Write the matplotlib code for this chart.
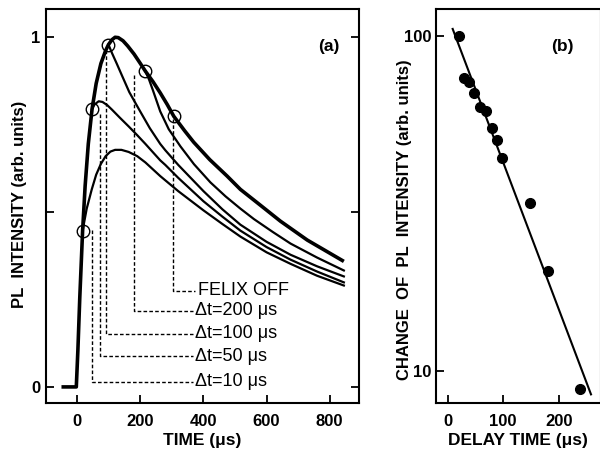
import matplotlib.pyplot as plt

# -----------------------------
# Data
# -----------------------------
# (a) PL transients, time in us, intensity normalised
t_off = [-50, -3, 2, 8, 17, 25, 35, 47, 60, 75, 90, 99, 110, 120, 130, 145, 160,
         180, 200, 216, 240, 263, 285, 306, 340, 369, 420, 475, 517, 580, 644,
         729, 845]
v_off = [0.0, 0.0, 0.105, 0.255, 0.447, 0.575, 0.695, 0.795, 0.868, 0.925, 0.962,
         0.979, 0.993, 1.0, 0.999, 0.99, 0.975, 0.952, 0.925, 0.903, 0.873, 0.841,
         0.808, 0.774, 0.733, 0.70, 0.65, 0.603, 0.565, 0.52, 0.474, 0.42, 0.359]

t_200 = [216, 228, 240, 263, 290, 327, 370, 422, 470, 517, 560, 620, 676, 760, 845]
v_200 = [0.903, 0.878, 0.848, 0.788, 0.737, 0.688, 0.637, 0.585, 0.545, 0.51,
         0.48, 0.443, 0.41, 0.37, 0.333]

t_100 = [99, 110, 125, 142, 165, 195, 230, 263, 279, 320, 400, 460, 517, 600,
         676, 760, 845]
v_100 = [0.979, 0.955, 0.925, 0.89, 0.843, 0.795, 0.74, 0.695, 0.677, 0.635,
         0.56, 0.508, 0.464, 0.415, 0.378, 0.345, 0.316]

t_50 = [47, 55, 68, 80, 95, 110, 135, 163, 190, 216, 263, 279, 320, 400, 460,
        517, 600, 676, 760, 845]
v_50 = [0.795, 0.808, 0.817, 0.815, 0.806, 0.793, 0.77, 0.745, 0.72, 0.695,
        0.648, 0.635, 0.598, 0.531, 0.487, 0.447, 0.4, 0.364, 0.33, 0.299]

t_10 = [17, 30, 46, 60, 75, 90, 105, 120, 140, 163, 190, 216, 263, 320, 400,
        460, 517, 600, 676, 760, 845]
v_10 = [0.447, 0.51, 0.565, 0.607, 0.638, 0.66, 0.673, 0.678, 0.678, 0.672,
        0.66, 0.642, 0.603, 0.56, 0.505, 0.466, 0.43, 0.385, 0.352, 0.318, 0.29]

# open circles where the FEL pulse hits
circ_t = [17, 47, 99, 216, 306]
circ_v = [0.447, 0.795, 0.979, 0.903, 0.774]

# leader lines: vertical at lead_t from lead_top down to lead_level
lead_names = ["FELIX OFF", "\u0394t=200 \u03bcs", "\u0394t=100 \u03bcs",
              "\u0394t=50 \u03bcs", "\u0394t=10 \u03bcs"]
lead_t = [304, 181, 91, 71, 47]
lead_top = [0.765, 0.893, 0.965, 0.78, 0.449]
lead_level = [0.275, 0.218, 0.152, 0.087, 0.015]

# (b) change of PL intensity vs delay time
delay = [20, 30, 38, 48, 58, 69, 79, 88, 98, 149, 180, 238]
change = [100, 75, 72.8, 67.3, 61.4, 59.6, 53, 48.9, 43.1, 31.8, 19.9, 8.87]
fit_t = [9, 258]
fit_y = [104.7, 8.52]

# -----------------------------
# Figure setup
# -----------------------------
plt.rcParams['font.family'] = ['Liberation Sans', 'DejaVu Sans']
W, H = 600, 453
fig = plt.figure(figsize=(6, 4.53), dpi=100)


def px_axes(x0, y0, x1, y1):
    return fig.add_axes([x0 / W, 1 - y1 / H, (x1 - x0) / W, (y1 - y0) / H])


def style_axes(ax):
    for s in ax.spines.values():
        s.set_linewidth(1.5)
    ax.tick_params(direction='in', width=1.3, length=6, labelsize=12)
    for lab in ax.get_xticklabels() + ax.get_yticklabels():
        lab.set_fontweight('bold')


# -----------------------------
# Panel (a)
# -----------------------------
ax1 = px_axes(45.7, 9.3, 359, 403)
ax1.set_xlim(-100, 893)
ax1.set_ylim(-0.046, 1.08)

ax1.plot(t_off, v_off, color='black', lw=2.6, solid_capstyle='butt')
for tt, vv in [(t_200, v_200), (t_100, v_100), (t_50, v_50), (t_10, v_10)]:
    ax1.plot(tt, vv, color='black', lw=1.6)
ax1.plot(circ_t, circ_v, 'o', ms=9, mfc='none', mec='black', mew=1.0)

end_t = [373, 368, 368, 368, 368]
text_t = [383, 374, 374, 374, 374]
for name, t0, top, lev, te, tx in zip(lead_names, lead_t, lead_top, lead_level,
                                      end_t, text_t):
    ax1.plot([t0, t0, te], [top, lev, lev], color='black', lw=1.0,
             dashes=(2.6, 1.6))
    ax1.text(tx, lev, name, fontsize=13, va='center', ha='left')

ax1.set_xticks([0, 200, 400, 600, 800])
ax1.set_yticks([0, 0.5, 1])
ax1.set_yticklabels(['0', '', '1'])
ax1.tick_params(right=True, pad=4)
ax1.tick_params(axis='x', pad=8)
style_axes(ax1)
ax1.text(0.905, 0.905, "(a)", transform=ax1.transAxes, fontsize=12.5,
         fontweight='bold', ha='center', va='center')

# -----------------------------
# Panel (b)
# -----------------------------
ax2 = px_axes(436, 9.3, 601, 403)
ax2.set_yscale('log')
ax2.set_xlim(-21, 276)
ax2.set_ylim(8.03, 119.8)
ax2.plot(fit_t, fit_y, color='black', lw=1.5)
ax2.plot(delay, change, 'o', ms=7, color='black')
ax2.set_xticks([0, 100, 200])
ax2.set_yticks([10, 100])
ax2.set_yticklabels(['10', '100'])
ax2.minorticks_off()
ax2.tick_params(axis='y', pad=3)
ax2.tick_params(axis='x', pad=8)
style_axes(ax2)
ax2.text(0.765, 0.905, "(b)", transform=ax2.transAxes, fontsize=12.5,
         fontweight='bold', ha='center', va='center')

# -----------------------------
# Axis titles
# -----------------------------
fig.text(202 / W, 1 - 440 / H, "TIME (\u03bcs)", fontsize=12.5, fontweight='bold',
         ha='center', va='center')
fig.text(518 / W, 1 - 440 / H, "DELAY TIME (\u03bcs)", fontsize=12.5,
         fontweight='bold', ha='center', va='center')
fig.text(20 / W, 1 - 204 / H, "PL  INTENSITY (arb. units)", fontsize=12,
         fontweight='bold', ha='center', va='center', rotation=90)
fig.text(405 / W, 1 - 220 / H, "CHANGE  OF  PL  INTENSITY (arb. units)",
         fontsize=12, fontweight='bold', ha='center', va='center', rotation=90)

fig.savefig("out.png", dpi=100)
